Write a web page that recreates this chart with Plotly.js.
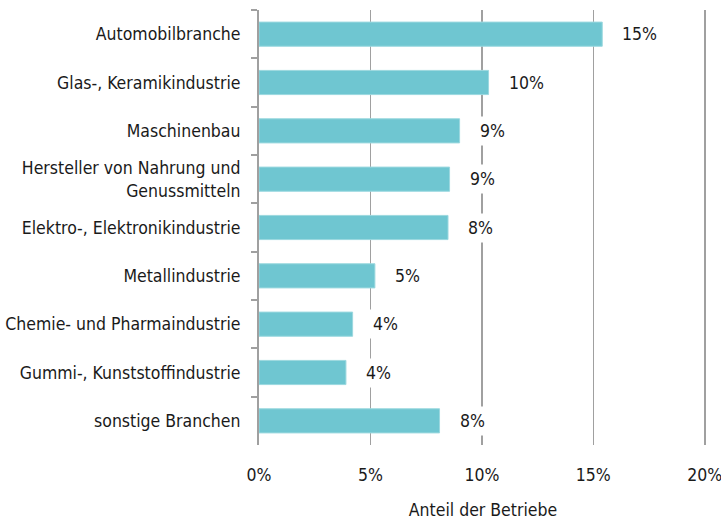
<!DOCTYPE html>
<html>
<head>
<meta charset="utf-8">
<script src="https://cdn.plot.ly/plotly-3.0.1.min.js"></script>
<style>html,body{margin:0;padding:0;background:#fff;}#chart{width:721px;height:524px;}</style>
</head>
<body>
<div id="chart"></div>
<script>
const categories = ["Automobilbranche", "Glas-, Keramikindustrie", "Maschinenbau", "Hersteller von Nahrung und<br>Genussmitteln", "Elektro-, Elektronikindustrie", "Metallindustrie", "Chemie- und Pharmaindustrie", "Gummi-, Kunststoffindustrie", "sonstige Branchen"];
const values = [15.4, 10.3, 9.0, 8.55, 8.48, 5.2, 4.2, 3.9, 8.1];
const valueLabels = ["15%", "10%", "9%", "9%", "8%", "5%", "4%", "4%", "8%"];
const xTickVals = [0, 5, 10, 15, 20];
const xTickText = ["0%", "5%", "10%", "15%", "20%"];

const FONT = "'DejaVu Sans Condensed', 'Liberation Sans Narrow', 'Arial Narrow', sans-serif";
const FS = 17.5;

const trace = {
  type: 'bar',
  orientation: 'h',
  y: categories,
  x: values,
  width: 0.5,
  marker: {color: '#6fc6d1', line: {color: '#9bd8df', width: 1}},
  hoverinfo: 'none'
};

const annotations = categories.map((c, i) => ({
  x: values[i], y: c, xref: 'x', yref: 'y',
  text: valueLabels[i], showarrow: false,
  xanchor: 'left', xshift: 15,
  bgcolor: '#ffffff', borderpad: 4,
  font: {family: FONT, size: FS, color: '#1a1a1a'}
}));

const layout = {
  width: 721, height: 524,
  margin: {l: 259, r: 14, t: 10, b: 79},
  paper_bgcolor: '#fff', plot_bgcolor: '#fff',
  showlegend: false,
  font: {family: FONT, size: FS, color: '#1a1a1a'},
  xaxis: {
    range: [0, 20.1], tickvals: xTickVals, ticktext: xTickText,
    showgrid: true, gridcolor: '#a0a0a0', gridwidth: 1.5,
    zeroline: false, showline: false, ticks: '',
    ticklabelstandoff: 17, ticklabeloverflow: 'allow',
    automargin: false,
    title: {text: 'Anteil der Betriebe', standoff: 20, font: {family: FONT, size: FS, color: '#1a1a1a'}},
    fixedrange: true
  },
  yaxis: {
    autorange: 'reversed', type: 'category',
    showline: true, linecolor: '#a0a0a0', linewidth: 2,
    ticks: 'outside', tickson: 'boundaries', ticklen: 6, tickcolor: '#a0a0a0', tickwidth: 2,
    ticklabelstandoff: 13,
    showgrid: false, zeroline: false, fixedrange: true
  },
  annotations: annotations
};

Plotly.newPlot('chart', [trace], layout, {displayModeBar: false, staticPlot: true});
</script>
</body>
</html>
